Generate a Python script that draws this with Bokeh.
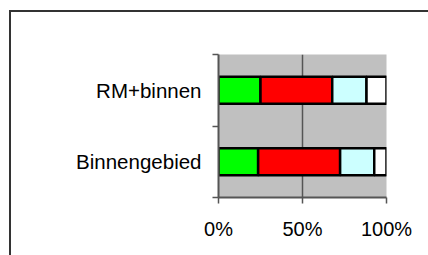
from bokeh.plotting import figure
from bokeh.models import FixedTicker, NumeralTickFormatter, Range1d, ColumnDataSource
from bokeh.embed import file_html
from bokeh.resources import INLINE

categories = ["Binnengebied", "RM+binnen"]
cat_pos = [0.5, 1.5]
green_vals = [0.236, 0.250]
red_vals = [0.488, 0.427]
cyan_vals = [0.203, 0.204]
white_vals = [0.073, 0.119]
x_ticks = [0, 0.5, 1.0]

series = ["green", "red", "cyan", "white"]
colors = ["#00FF00", "#FF0000", "#CCFFFF", "#FFFFFF"]

source = ColumnDataSource(dict(y=cat_pos, green=green_vals, red=red_vals, cyan=cyan_vals, white=white_vals))

FONT = "Liberation Sans"

p = figure(width=428, height=255, output_backend="svg", toolbar_location=None,
           x_range=Range1d(0, 1), y_range=Range1d(0, 2),
           min_border_left=218, min_border_right=42, min_border_top=54, min_border_bottom=58)
p.background_fill_color = "#C0C0C0"
p.border_fill_color = "white"
p.outline_line_color = None
p.stylesheets = [":host { position: relative; } "
                 ":host::before { content: ''; position: absolute; left: 9px; top: 10px; "
                 "right: 0; height: 2px; background: #333333; pointer-events: none; z-index: 100; } "
                 ":host::after { content: ''; position: absolute; left: 9px; top: 10px; "
                 "bottom: 0; width: 2px; background: #333333; pointer-events: none; z-index: 100; }"]

p.hbar_stack(series, y="y", height=0.38, source=source, color=colors,
             line_color="black", line_width=2.5)

# x axis
p.xaxis.ticker = FixedTicker(ticks=x_ticks, minor_ticks=[])
p.xaxis.formatter = NumeralTickFormatter(format="0%")
p.xaxis.axis_line_color = "#555555"
p.xaxis.axis_line_width = 2
p.xaxis.major_tick_line_color = "#555555"
p.xaxis.major_tick_line_width = 1.5
p.xaxis.major_tick_out = 6
p.xaxis.major_tick_in = 0
p.xaxis.major_label_standoff = 14
p.xaxis.major_label_text_font = FONT
p.xaxis.major_label_text_font_size = "20px"
p.xaxis.major_label_text_color = "black"

# y axis: labels at category centres, ticks at boundaries
p.yaxis.ticker = FixedTicker(ticks=cat_pos, minor_ticks=[0, 1, 2])
p.yaxis.major_label_overrides = {cat_pos[i]: categories[i] for i in range(len(categories))}
p.yaxis.axis_line_color = "#555555"
p.yaxis.axis_line_width = 2
p.yaxis.major_tick_line_color = None
p.yaxis.major_tick_out = 6
p.yaxis.major_tick_in = 0
p.yaxis.minor_tick_line_color = "#555555"
p.yaxis.minor_tick_line_width = 1.5
p.yaxis.minor_tick_out = 6
p.yaxis.minor_tick_in = 0
p.yaxis.major_label_standoff = 11
p.yaxis.major_label_text_font = FONT
p.yaxis.major_label_text_font_size = "20.5px"
p.yaxis.major_label_text_color = "black"

p.xgrid.ticker = FixedTicker(ticks=x_ticks)
p.xgrid.grid_line_color = "#555555"
p.xgrid.grid_line_width = 1.5
p.ygrid.grid_line_color = None

open("out.html", "w").write(file_html(p, INLINE))
